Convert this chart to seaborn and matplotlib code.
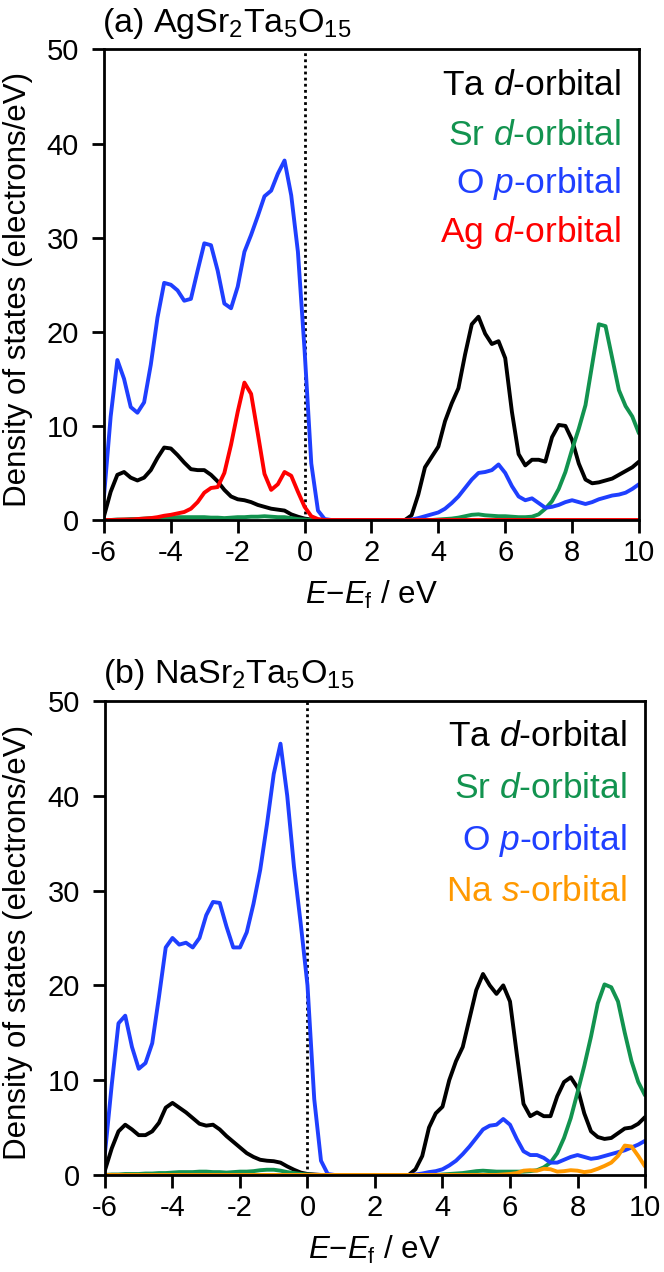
import numpy as np
import pandas as pd
import matplotlib
matplotlib.use('Agg')
import matplotlib.pyplot as plt
import seaborn as sns

# energy grid (eV), values every 0.2 eV
energy = np.round(np.linspace(-6, 10, 81), 2)

# (a) AgSr2Ta5O15
ta_d_a = [0.4, 3.0, 4.8, 5.1, 4.5, 4.2, 4.5, 5.3, 6.6, 7.7,
          7.6, 6.9, 6.1, 5.4, 5.3, 5.3, 4.8, 4.1, 3.2, 2.5,
          2.2, 2.1, 1.9, 1.6, 1.4, 1.2, 1.1, 1.0, 0.6, 0.35,
          0.15, 0.05, 0, 0, 0, 0, 0, 0, 0, 0,
          0, 0, 0, 0, 0, 0, 0.5, 2.7, 5.6, 6.7,
          7.8, 10.5, 12.4, 14.0, 17.6, 20.8, 21.6, 19.8, 18.7, 19.0,
          17.2, 11.5, 7.0, 5.8, 6.4, 6.4, 6.2, 8.8, 10.1, 10.0,
          8.5, 6.0, 4.3, 3.9, 4.0, 4.2, 4.4, 4.8, 5.2, 5.6,
          6.2]
sr_d_a = [0, 0, 0.05, 0.05, 0.1, 0.1, 0.15, 0.2, 0.2, 0.25,
          0.25, 0.3, 0.3, 0.3, 0.3, 0.3, 0.25, 0.25, 0.2, 0.25,
          0.3, 0.3, 0.35, 0.35, 0.4, 0.35, 0.3, 0.3, 0.2, 0.1,
          0.05, 0, 0, 0, 0, 0, 0, 0, 0, 0,
          0, 0, 0, 0, 0, 0, 0, 0, 0, 0,
          0.05, 0.1, 0.15, 0.25, 0.4, 0.55, 0.6, 0.5, 0.45, 0.4,
          0.4, 0.35, 0.3, 0.3, 0.35, 0.6, 1.2, 2.0, 3.3, 5.1,
          7.5, 9.7, 12.2, 16.5, 20.8, 20.6, 17.2, 13.8, 12.1, 11.0,
          9.2]
o_p_a = [2.5, 11.0, 17.0, 15.0, 12.0, 11.4, 12.5, 16.5, 21.5, 25.2,
         25.0, 24.4, 23.3, 23.5, 26.5, 29.4, 29.2, 26.5, 23.0, 22.5,
         24.8, 28.5, 30.3, 32.3, 34.4, 35.0, 36.8, 38.2, 34.5, 28.5,
         18.0, 6.0, 1.0, 0.1, 0, 0, 0, 0, 0, 0,
         0, 0, 0, 0, 0, 0, 0.05, 0.2, 0.4, 0.6,
         0.8, 1.2, 1.8, 2.5, 3.4, 4.3, 5.0, 5.1, 5.3, 5.9,
         5.0, 3.6, 2.5, 2.1, 2.3, 1.8, 1.3, 1.4, 1.6, 1.9,
         2.1, 1.9, 1.7, 1.9, 2.2, 2.4, 2.6, 2.7, 2.9, 3.3,
         3.8]
ag_d_a = [0, 0, 0.02, 0.05, 0.05, 0.1, 0.15, 0.2, 0.3, 0.45,
          0.55, 0.7, 0.85, 1.2, 1.9, 2.9, 3.4, 3.5, 5.0, 8.0,
          11.5, 14.6, 13.4, 9.2, 4.9, 3.2, 3.8, 5.1, 4.7, 3.0,
          1.4, 0.4, 0.1, 0, 0, 0, 0, 0, 0, 0,
          0, 0, 0, 0, 0, 0, 0, 0, 0, 0,
          0, 0, 0, 0, 0, 0, 0, 0, 0, 0,
          0, 0, 0, 0, 0, 0, 0, 0, 0, 0,
          0, 0, 0, 0, 0, 0, 0, 0, 0, 0,
          0]

# (b) NaSr2Ta5O15
ta_d_b = [0.5, 2.8, 4.6, 5.3, 4.8, 4.2, 4.2, 4.6, 5.5, 7.1,
          7.6, 7.1, 6.6, 6.0, 5.4, 5.2, 5.3, 4.8, 4.1, 3.5,
          2.9, 2.3, 1.9, 1.6, 1.5, 1.45, 1.3, 0.9, 0.55, 0.25,
          0.1, 0.05, 0, 0, 0, 0, 0, 0, 0, 0,
          0, 0, 0, 0, 0, 0, 0.6, 2.0, 5.0, 6.5,
          7.2, 10.0, 12.0, 13.5, 16.5, 19.5, 21.2, 20.0, 19.1, 20.0,
          18.3, 12.8, 7.5, 6.2, 6.6, 6.2, 6.2, 8.3, 9.8, 10.3,
          9.2, 6.5, 4.6, 4.0, 3.8, 3.9, 4.4, 4.9, 5.0, 5.4,
          6.1]
sr_d_b = [0, 0.05, 0.05, 0.1, 0.1, 0.1, 0.15, 0.15, 0.2, 0.2,
          0.25, 0.3, 0.3, 0.3, 0.35, 0.35, 0.3, 0.3, 0.25, 0.3,
          0.35, 0.35, 0.4, 0.5, 0.55, 0.55, 0.45, 0.3, 0.2, 0.1,
          0.05, 0, 0, 0, 0, 0, 0, 0, 0, 0,
          0, 0, 0, 0, 0, 0, 0, 0, 0, 0,
          0.05, 0.1, 0.15, 0.2, 0.3, 0.4, 0.45, 0.4, 0.35, 0.35,
          0.35, 0.35, 0.35, 0.4, 0.5, 0.8, 1.3, 2.3, 3.9, 6.0,
          8.7, 11.5, 14.6, 18.1, 20.1, 19.8, 18.3, 15.0, 12.0, 9.8,
          8.4]
o_p_b = [2.3, 9.5, 16.0, 16.8, 13.5, 11.2, 11.8, 13.9, 18.8, 24.0,
         25.0, 24.3, 24.5, 24.0, 25.0, 27.4, 28.8, 28.7, 26.2, 24.0,
         24.0, 25.6, 28.6, 32.2, 37.0, 42.3, 45.5, 40.0, 32.5, 26.5,
         20.0, 8.0, 1.5, 0.1, 0, 0, 0, 0, 0, 0,
         0, 0, 0, 0, 0, 0, 0.05, 0.15, 0.3, 0.4,
         0.6, 1.0, 1.5, 2.2, 3.0, 3.9, 4.8, 5.2, 5.3, 5.9,
         5.3, 3.8, 2.5, 2.1, 2.1, 1.8, 1.3, 1.3, 1.6, 1.9,
         2.1, 1.9, 1.7, 1.8, 2.0, 2.2, 2.4, 2.6, 2.9, 3.2,
         3.6]
na_s_b = [0, 0, 0, 0, 0, 0, 0, 0, 0, 0,
          0, 0, 0, 0, 0, 0, 0, 0, 0, 0,
          0, 0, 0, 0, 0, 0, 0, 0, 0, 0,
          0, 0, 0, 0, 0, 0, 0, 0, 0, 0,
          0, 0, 0, 0, 0, 0, 0, 0, 0, 0,
          0, 0, 0, 0, 0, 0, 0, 0, 0, 0.05,
          0.1, 0.2, 0.45, 0.5, 0.45, 0.65, 0.6, 0.35, 0.4, 0.5,
          0.45, 0.3, 0.4, 0.65, 0.95, 1.3, 2.0, 3.1, 3.0, 2.0,
          0.9]

colors = {'Ta d': '#000000', 'Sr d': '#12934f', 'O p': '#1f3fff',
          'Ag d': '#ff0000', 'Na s': '#ff9900'}
legend_text = {'Ta d': 'Ta $\\mathit{d}$-orbital', 'Sr d': 'Sr $\\mathit{d}$-orbital',
               'O p': 'O $\\mathit{p}$-orbital', 'Ag d': 'Ag $\\mathit{d}$-orbital',
               'Na s': 'Na $\\mathit{s}$-orbital'}

sns.set_style('ticks')
plt.rcParams.update({
    'font.family': ['Liberation Sans', 'DejaVu Sans'],
    'mathtext.fontset': 'custom',
    'mathtext.rm': 'Liberation Sans',
    'mathtext.it': 'Liberation Sans:italic',
    'mathtext.bf': 'Liberation Sans:bold',
    'axes.unicode_minus': False,
    'text.color': 'black',
    'axes.labelcolor': 'black',
    'xtick.color': 'black',
    'ytick.color': 'black',
})


def draw_panel(ax, title, series, legend_y):
    names = [n for n, _ in series]
    df = pd.DataFrame({
        'E': np.tile(energy, len(series)),
        'dos': np.concatenate([np.asarray(v, dtype=float) for _, v in series]),
        'orbital': np.repeat(names, len(energy)),
    })
    ax.axvline(0, color='k', linewidth=2.0, linestyle=(0, (1, 1.2)), zorder=1)
    sns.lineplot(data=df, x='E', y='dos', hue='orbital', hue_order=names,
                 palette=colors, estimator=None, sort=False, linewidth=2.8,
                 legend=False, ax=ax, zorder=2)

    ax.set_xlim(-6, 10)
    ax.set_ylim(0, 50)
    ax.set_xticks(range(-6, 11, 2))
    ax.set_yticks(range(0, 51, 10))
    for sp in ax.spines.values():
        sp.set_visible(True)
        sp.set_color('k')
        sp.set_linewidth(2.0)
        sp.set_zorder(3)
    ax.tick_params(axis='both', direction='out', length=9, width=2.0,
                   color='k', labelsize=21, labelcolor='k')
    ax.tick_params(axis='y', pad=9)
    ax.tick_params(axis='x', pad=5)

    ax.set_xlabel('$\\mathit{E}$\u2212$\\mathit{E}_\\mathrm{f}$ / eV', fontsize=22.5)
    ax.xaxis.set_label_coords(0.5, -0.125)
    ax.set_ylabel('Density of states (electrons/eV)', fontsize=22.5)
    ax.yaxis.set_label_coords(-0.133, 0.49)

    ax.text(-0.004, 1.038, title, transform=ax.transAxes, ha='left',
            va='baseline', fontsize=24.5)
    for n, y in zip(names, legend_y):
        ax.text(0.966, y, legend_text[n], transform=ax.transAxes, ha='right',
                va='baseline', fontsize=25.5, color=colors[n])


fig = plt.figure(figsize=(6.64, 12.72), dpi=100)
ax_a = fig.add_axes([0.1566, 0.5912, 0.8057, 0.3699])
ax_b = fig.add_axes([0.1581, 0.0763, 0.8133, 0.3726])

draw_panel(ax_a, '(a) AgSr$_2$Ta$_5$O$_{15}$',
           [('Ta d', ta_d_a), ('Sr d', sr_d_a), ('O p', o_p_a), ('Ag d', ag_d_a)],
           [0.903, 0.798, 0.695, 0.591])
draw_panel(ax_b, '(b) NaSr$_2$Ta$_5$O$_{15}$',
           [('Ta d', ta_d_b), ('Sr d', sr_d_b), ('O p', o_p_b), ('Na s', na_s_b)],
           [0.904, 0.795, 0.685, 0.577])

fig.savefig('out.png', dpi=100)
